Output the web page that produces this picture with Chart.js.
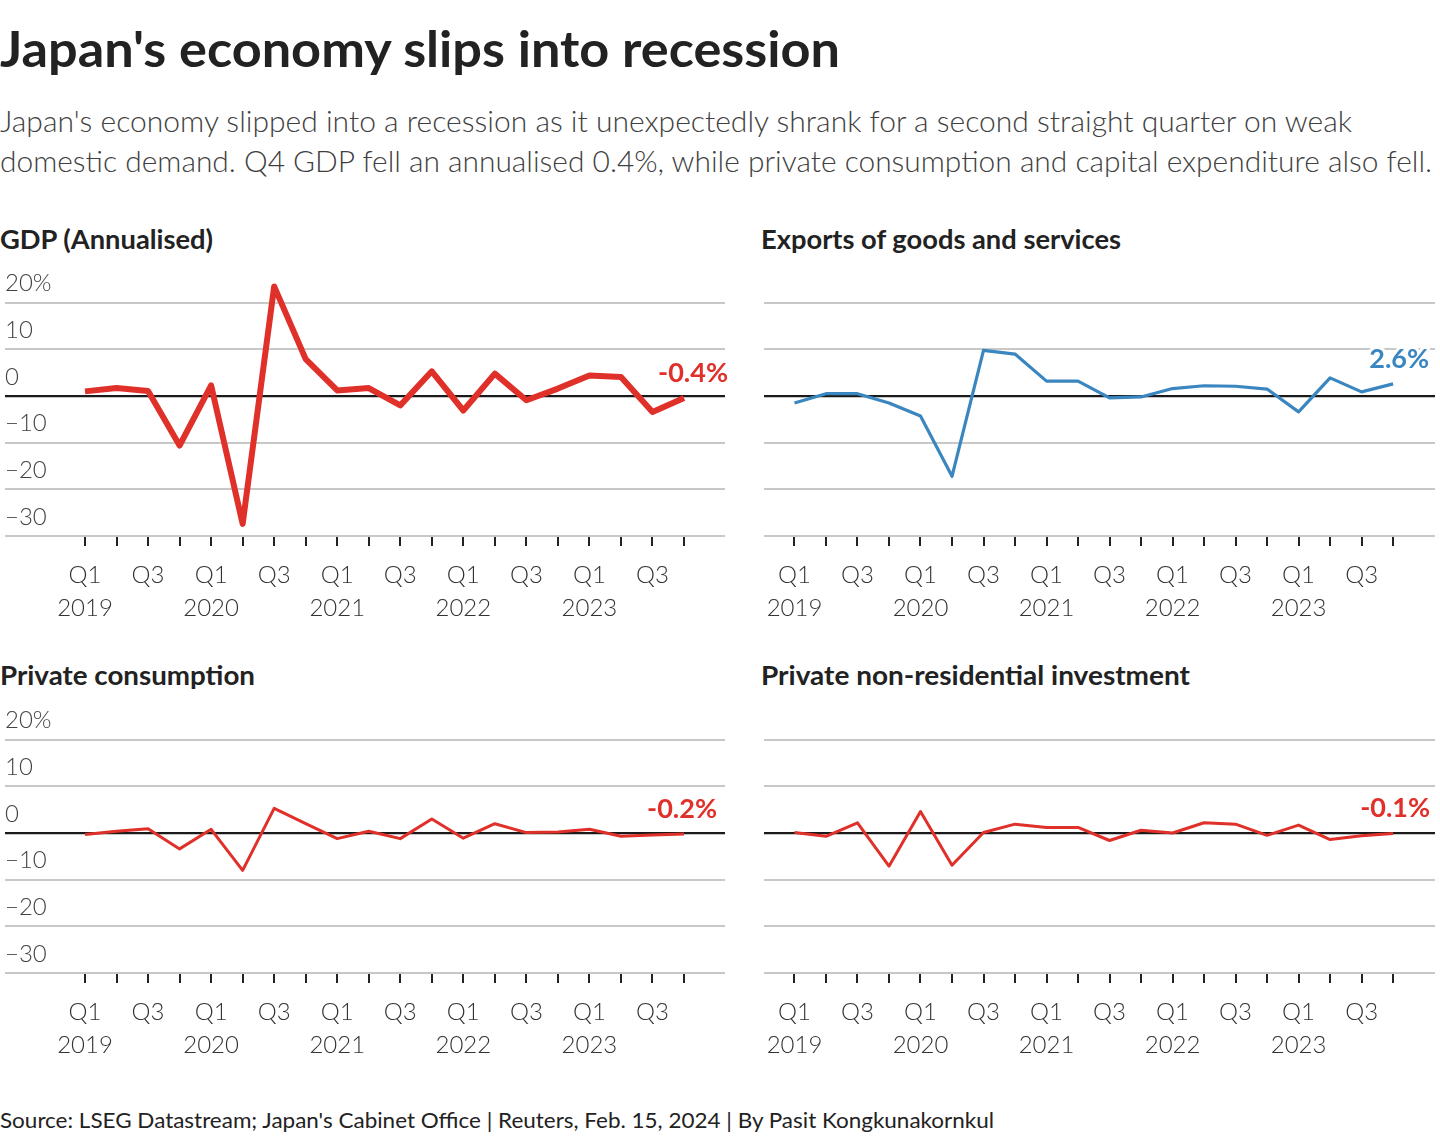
<!DOCTYPE html>
<html>
<head>
<meta charset="utf-8">
<script src="https://cdn.jsdelivr.net/npm/chart.js@4.4.1/dist/chart.umd.min.js"></script>
<style>
  html, body { margin: 0; padding: 0; background: #fff; }
  body { width: 1440px; height: 1140px; position: relative; overflow: hidden; font-family: Lato, "Noto Sans", sans-serif; color: #222; }
  .t { position: absolute; white-space: nowrap; transform-origin: 0 50%; }
  #title { left: 0; top: 17px; font-size: 50px; font-weight: 700; color: #222; line-height: 62px; }
  .sub { left: 0; font-size: 30px; font-weight: 300; color: #404040; line-height: 40px; }
  .ptitle { font-size: 26px; font-weight: 700; color: #222; line-height: 32px; }
  #source { left: 0; top: 1105px; font-size: 22px; font-weight: 400; color: #222; line-height: 30px; }
  .cv { position: absolute; }
</style>
</head>
<body>
<div id="title" class="t" data-w="840">Japan's economy slips into recession</div>
<div class="t sub" style="top:100px;" data-w="1352">Japan's economy slipped into a recession as it unexpectedly shrank for a second straight quarter on weak</div>
<div class="t sub" style="top:140px;" data-w="1432">domestic demand. Q4 GDP fell an annualised 0.4%, while private consumption and capital expenditure also fell.</div>
<div class="t ptitle" style="left:0;top:223px;" data-w="213">GDP (Annualised)</div>
<div class="t ptitle" style="left:761px;top:223px;" data-w="360">Exports of goods and services</div>
<div class="t ptitle" style="left:0;top:659px;" data-w="255">Private consumption</div>
<div class="t ptitle" style="left:761px;top:659px;" data-w="429">Private non-residential investment</div>
<div class="cv" style="left:0;top:256px;width:730px;height:370px;"><canvas id="c1"></canvas></div>
<div class="cv" style="left:730px;top:256px;width:710px;height:370px;"><canvas id="c2"></canvas></div>
<div class="cv" style="left:0;top:693px;width:730px;height:370px;"><canvas id="c3"></canvas></div>
<div class="cv" style="left:730px;top:693px;width:710px;height:370px;"><canvas id="c4"></canvas></div>
<div id="source" class="t" data-w="994">Source: LSEG Datastream; Japan's Cabinet Office | Reuters, Feb. 15, 2024 | By Pasit Kongkunakornkul</div>
<script>
// ---- Data ----
const quarters = ['Q1','Q2','Q3','Q4','Q1','Q2','Q3','Q4','Q1','Q2','Q3','Q4','Q1','Q2','Q3','Q4','Q1','Q2','Q3','Q4'];
const years    = ['2019','2019','2019','2019','2020','2020','2020','2020','2021','2021','2021','2021','2022','2022','2022','2022','2023','2023','2023','2023'];
const gdp         = [1.0, 1.7, 1.1, -10.6, 2.3, -27.4, 23.5, 7.9, 1.2, 1.7, -2.0, 5.3, -3.1, 4.8, -0.9, 1.6, 4.4, 4.1, -3.4, -0.4];
const exportsGS   = [-1.5, 0.5, 0.5, -1.5, -4.3, -17.2, 9.8, 9.0, 3.2, 3.2, -0.4, -0.2, 1.6, 2.2, 2.1, 1.5, -3.4, 3.9, 0.9, 2.6];
const consumption = [-0.3, 0.4, 0.9, -3.4, 0.8, -8.0, 5.3, 2.0, -1.2, 0.4, -1.2, 3.0, -1.1, 2.0, 0.1, 0.2, 0.8, -0.7, -0.4, -0.2];
const investment  = [0.1, -0.7, 2.2, -7.1, 4.6, -6.9, 0.1, 1.9, 1.2, 1.2, -1.6, 0.6, 0.0, 2.2, 1.9, -0.5, 1.7, -1.4, -0.6, -0.1];
const yTicks = [-30, -20, -10, 0, 10, 20];
const yTickLabels = ['\u221230', '\u221220', '\u221210', '0', '10', '20%'];
const endLabels = ['-0.4%', '2.6%', '-0.2%', '-0.1%'];

const RED = '#e0302a';
const BLUE = '#3a86c0';
const FONT = 'Lato, "Noto Sans", sans-serif';

// fit header/footer text widths to the reference
document.querySelectorAll('[data-w]').forEach(el => {
  const w = el.getBoundingClientRect().width;
  const target = +el.dataset.w;
  el.style.transform = 'scaleX(' + (target / w) + ')';
});

const endLabelPlugin = {
  id: 'endLabel',
  afterDatasetsDraw(chart, args, opts) {
    const meta = chart.getDatasetMeta(0);
    const last = meta.data[meta.data.length - 1];
    const ctx = chart.ctx;
    ctx.save();
    ctx.font = '700 27px ' + FONT;
    ctx.textAlign = 'right';
    ctx.textBaseline = 'middle';
    const x = last.x + opts.dx, y = last.y + opts.dy;
    ctx.lineWidth = 6;
    ctx.strokeStyle = '#fff';
    ctx.lineJoin = 'round';
    ctx.strokeText(opts.text, x, y);
    ctx.fillStyle = opts.color;
    ctx.fillText(opts.text, x, y);
    ctx.restore();
  }
};

function makeChart(id, values, color, width, showY, xmin, xmax, padLeft, label, dx) {
  const idx = values.map((v, i) => i);
  return new Chart(document.getElementById(id), {
    type: 'line',
    data: {
      datasets: [{
        data: values.map((v, i) => ({ x: i, y: v })),
        borderColor: color,
        borderWidth: width,
        pointRadius: 0,
        tension: 0,
        borderJoinStyle: 'round',
        borderCapStyle: 'butt',
        fill: false
      }]
    },
    options: {
      responsive: true,
      maintainAspectRatio: false,
      animation: false,
      events: [],
      layout: { padding: { top: 23.4, left: padLeft, right: 5, bottom: 0 } },
      plugins: {
        legend: { display: false },
        tooltip: { enabled: false },
        endLabel: { text: label, color: color, dx: dx, dy: -25 }
      },
      scales: {
        x: {
          type: 'linear',
          min: xmin,
          max: xmax,
          afterBuildTicks: (s) => { s.ticks = idx.map(v => ({ value: v })); },
          afterFit: (s) => { s.height = 90; },
          border: { display: false },
          grid: { drawOnChartArea: false, drawTicks: true, tickLength: 10, color: '#222', lineWidth: 2 },
          ticks: {
            autoSkip: false,
            maxRotation: 0,
            padding: 13,
            color: '#333',
            font: { family: FONT, size: 24, weight: 300, lineHeight: 1.375 },
            callback: (v) => {
              const q = quarters[v];
              if (q === 'Q1') return [q, years[v]];
              if (q === 'Q3') return [q, ''];
              return '';
            }
          }
        },
        y: {
          min: -30,
          max: 25,
          afterBuildTicks: (s) => { s.ticks = yTicks.map(v => ({ value: v })); },
          afterFit: (s) => { s.width = 0; },
          border: { display: false },
          grid: {
            drawTicks: false,
            color: (c) => c.tick && c.tick.value === 0 ? '#1a1a1a' : '#c8c8c8',
            lineWidth: (c) => c.tick && c.tick.value === 0 ? 2.2 : 2
          },
          ticks: {
            display: showY,
            mirror: true,
            padding: 0,
            labelOffset: -19,
            color: '#444',
            font: { family: FONT, size: 24, weight: 300 },
            callback: (v) => yTickLabels[yTicks.indexOf(v)]
          }
        }
      }
    },
    plugins: [endLabelPlugin]
  });
}

// left panels: chart area 5..725 ; x=0 at 85
makeChart('c1', gdp, RED, 6, true, -2.538, 20.30, 5, endLabels[0], 44);
makeChart('c3', consumption, RED, 3, true, -2.538, 20.30, 5, endLabels[2], 33);
// right panels: chart area 764..1436 ; x=0 at 794.5
makeChart('c2', exportsGS, BLUE, 3.2, false, -0.967, 20.33, 34, endLabels[1], 36);
makeChart('c4', investment, RED, 3, false, -0.967, 20.33, 34, endLabels[3], 37);
</script>
</body>
</html>
